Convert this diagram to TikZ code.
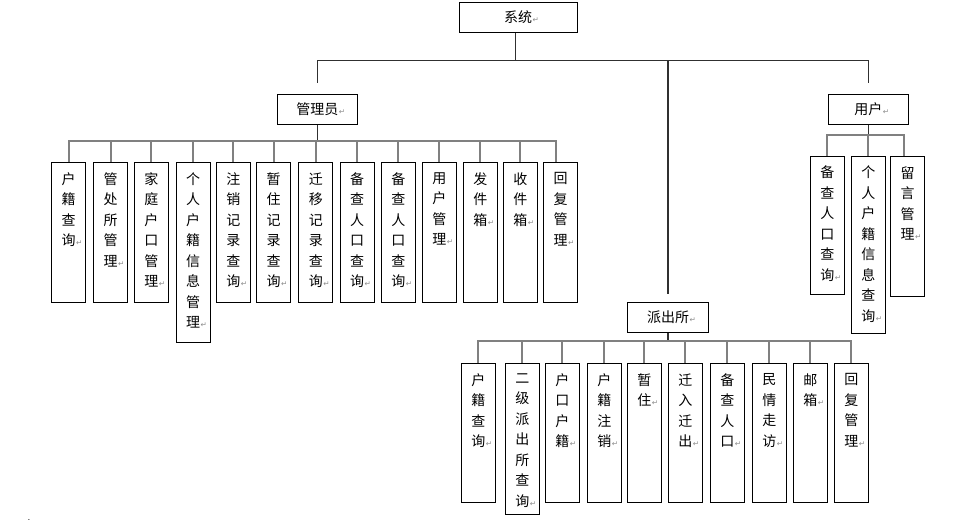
\documentclass[tikz,border=0pt]{standalone}
\usepackage{fontspec}
\newfontfamily\cjk{Noto Sans CJK SC}
\newfontfamily\arrfont{DejaVu Sans}
\definecolor{retgray}{HTML}{8C8C8C}
\definecolor{busgray}{HTML}{808080}
\definecolor{linegray}{HTML}{303030}
\newcommand\retmark{\rlap{\kern0.5pt\arrfont\fontsize{7.5}{7.5}\selectfont\textcolor{retgray}{↵}}}
\tikzset{
  vbox/.style={draw=black, line width=1pt, minimum width=34pt, inner sep=0pt, anchor=north},
  vtext/.style={font=\cjk\fontsize{14}{20.5}\selectfont, align=center, inner sep=0pt, anchor=north},
  hbox/.style={draw=black, line width=1pt, inner sep=0pt, font=\cjk\fontsize{14}{16}\selectfont},
  tline/.style={draw=linegray, line width=1.2pt},
  bus/.style={draw=busgray, line width=2pt},
}
\newcommand\vitem[5]{%
  \node[vbox, minimum height=#4pt] (#1) at (#2,#3) {};
  \node[vtext] (#1t) at ([yshift=-10pt]#1.north) {#5};}
\begin{document}
\begin{tikzpicture}[x=1pt,y=-1pt]
\useasboundingbox (0,0) rectangle (956,521);
% top level boxes
\node[hbox, minimum width=117.7pt, minimum height=29.6pt] (sys) at (518.2,17.5) {系统\retmark};
\node[hbox, minimum width=80pt, minimum height=30pt] (admin) at (317.3,109.3) {管理员\retmark};
\node[hbox, minimum width=80pt, minimum height=30pt] (user) at (868.3,109.3) {用户\retmark};
\node[hbox, minimum width=81.4pt, minimum height=30.3pt] (pcs) at (668,317.5) {派出所\retmark};
% admin children
\vitem{a1}{68.5}{162.3}{139.7}{户\\籍\\查\\询\retmark}
\vitem{a2}{110.5}{162.3}{139.7}{管\\处\\所\\管\\理\retmark}
\vitem{a3}{151.3}{162.3}{139.7}{家\\庭\\户\\口\\管\\理\retmark}
\vitem{a4}{193}{162.3}{179.7}{个\\人\\户\\籍\\信\\息\\管\\理\retmark}
\vitem{a5}{233.3}{162.3}{139.7}{注\\销\\记\\录\\查\\询\retmark}
\vitem{a6}{273.5}{162.3}{139.7}{暂\\住\\记\\录\\查\\询\retmark}
\vitem{a7}{315.8}{162.3}{139.7}{迁\\移\\记\\录\\查\\询\retmark}
\vitem{a8}{357.2}{162.3}{139.7}{备\\查\\人\\口\\查\\询\retmark}
\vitem{a9}{398.3}{162.3}{139.7}{备\\查\\人\\口\\查\\询\retmark}
\vitem{a10}{439.3}{162.3}{139.7}{用\\户\\管\\理\retmark}
\vitem{a11}{480.3}{162.3}{139.7}{发\\件\\箱\retmark}
\vitem{a12}{520.3}{162.3}{139.7}{收\\件\\箱\retmark}
\vitem{a13}{560.5}{162.3}{139.7}{回\\复\\管\\理\retmark}
% user children
\vitem{u1}{827.3}{155.7}{138.6}{备\\查\\人\\口\\查\\询\retmark}
\vitem{u2}{868.3}{155.7}{177}{个\\人\\户\\籍\\信\\息\\查\\询\retmark}
\vitem{u3}{907.7}{156.3}{139.4}{留\\言\\管\\理\retmark}
% pcs children
\vitem{p1}{478.3}{363.3}{138.7}{户\\籍\\查\\询\retmark}
\vitem{p2}{522.3}{363.3}{150.7}{二\\级\\派\\出\\所\\查\\询\retmark}
\vitem{p3}{562.3}{363.3}{138.7}{户\\口\\户\\籍\retmark}
\vitem{p4}{604.3}{363.3}{138.7}{户\\籍\\注\\销\retmark}
\vitem{p5}{644.3}{363.3}{138.7}{暂\\住\retmark}
\vitem{p6}{685.3}{363.3}{138.7}{迁\\入\\迁\\出\retmark}
\vitem{p7}{727.3}{363.3}{138.7}{备\\查\\人\\口\retmark}
\vitem{p8}{769.3}{363.3}{138.7}{民\\情\\走\\访\retmark}
\vitem{p9}{810.3}{363.3}{138.7}{邮\\箱\retmark}
\vitem{p10}{851.3}{363.3}{138.7}{回\\复\\管\\理\retmark}
% top-level connectors
\coordinate (topy) at (0,60.5);
\coordinate (sysb) at ([xshift=-2.5pt]sys.south);
\coordinate (pcsgap) at ([yshift=8pt]pcs.north);
\draw[tline] (sysb) -- (sysb |- topy);
\draw[tline, shorten <=11pt, shorten >=11pt] (admin.north) |- (sysb |- topy) -| (user.north);
\draw[tline] (pcsgap |- topy) -- (pcsgap);
% admin bus
\coordinate (ab) at (0,140.7);
\coordinate (a13s) at ([xshift=-4.8pt]a13.north);
\draw[tline] (admin.south) -- (admin.south |- ab);
\draw[bus, line cap=rect] (a1.north |- ab) -- (a13s |- ab);
\foreach \n in {a1,a2,a3,a4,a5,a6,a7,a8,a9,a10,a11,a12}
  \draw[bus] (\n.north |- ab) -- (\n.north);
\draw[bus] (a13s |- ab) -- (a13s);
% user bus
\coordinate (ub) at (0,135);
\coordinate (u3s) at ([xshift=-3.4pt]u3.north);
\draw[tline] (user.south) -- (user.south |- ub);
\draw[bus, line cap=rect] (u1.north |- ub) -- (u3s |- ub);
\draw[bus] (u1.north |- ub) -- (u1.north);
\draw[bus] (u2.north |- ub) -- (u2.north);
\draw[bus] (u3s |- ub) -- (u3s);
% pcs bus
\coordinate (pb) at (0,341);
\draw[tline] (pcs.south) -- (pcs.south |- pb);
\draw[bus, line cap=rect] (p1.north |- pb) -- (p10.north |- pb);
\foreach \n in {p1,p2,p3,p4,p5,p6,p7,p8,p9,p10}
  \draw[bus] (\n.north |- pb) -- (\n.north);
% stray dot
\node[font=\fontsize{10}{10}\selectfont, inner sep=0pt, anchor=base] (dot) at (29,520) {.};
\end{tikzpicture}
\end{document}
